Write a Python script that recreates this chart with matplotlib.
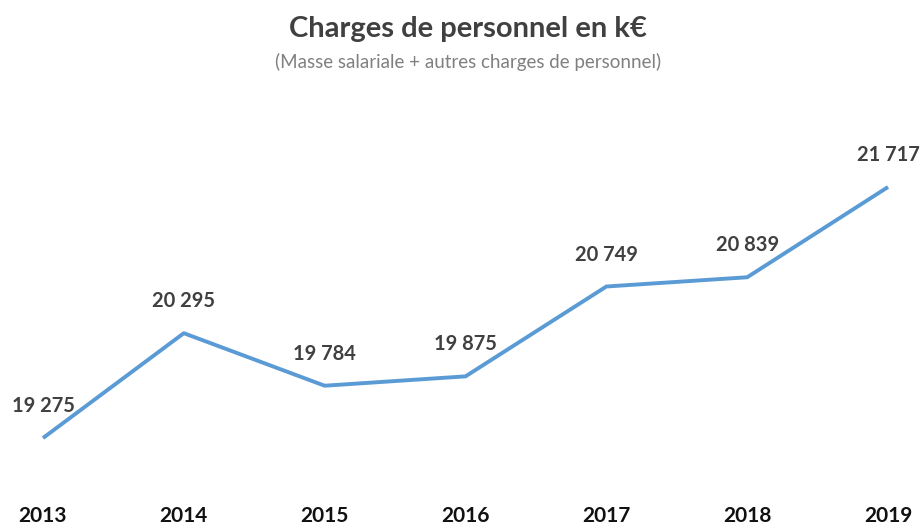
import matplotlib
matplotlib.use("Agg")
import matplotlib.pyplot as plt

years = [2013, 2014, 2015, 2016, 2017, 2018, 2019]
charges = [19275, 20295, 19784, 19875, 20749, 20839, 21717]
labels = ["19 275", "20 295", "19 784", "19 875", "20 749", "20 839", "21 717"]

plt.rcParams['font.family'] = ['Lato', 'DejaVu Sans']

fig = plt.figure(figsize=(9.21, 5.28), dpi=100)
ax = fig.add_axes([0, 0, 1, 1])
ax.plot(years, charges, color="#5b9bd5", linewidth=2.8, solid_capstyle="butt")

for x, y, lab in zip(years, charges, labels):
    ax.annotate(lab, (x, y), xytext=(0, 23), textcoords="offset points",
                ha="center", va="center", fontsize=14.5, fontweight="bold",
                color="#404040")

# year labels along the bottom
for x in years:
    ax.text(x, 18520, str(x), ha="center", va="center", fontsize=15,
            fontweight="bold", color="#111111")

ax.set_xlim(2012.695, 2019.234)
ax.set_ylim(18400, 23536)
ax.axis("off")

fig.text(0.508, 0.945, "Charges de personnel en k€", ha="center", va="center",
         fontsize=21, fontweight="bold", color="#404040")
fig.text(0.508, 0.882, "(Masse salariale + autres charges de personnel)",
         ha="center", va="center", fontsize=13.5, color="#808080")

fig.savefig("out.png", dpi=100, facecolor="white")
